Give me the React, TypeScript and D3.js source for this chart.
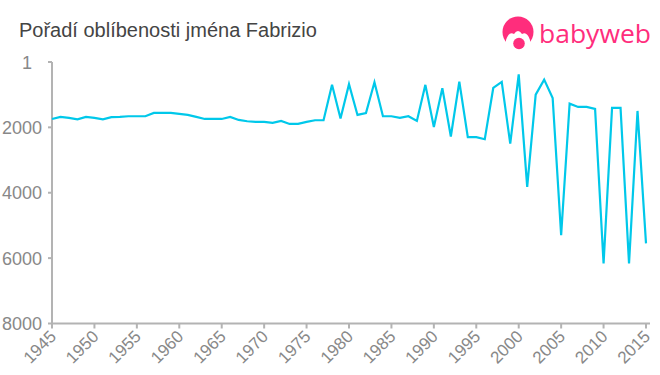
import React from "react";
import * as d3 from "d3";

const title = "Pořadí oblíbenosti jména Fabrizio";
const brand = "babyweb";
const startYear = 1945;
const ranks = [
  1743, 1680, 1712, 1753, 1680, 1712, 1753, 1690, 1680, 1660,
  1660, 1660, 1560, 1560, 1560, 1590, 1620, 1680, 1743, 1743,
  1743, 1680, 1773, 1814, 1834, 1834, 1865, 1804, 1895, 1895,
  1834, 1783, 1783, 700, 1730, 680, 1620, 1560, 620, 1660,
  1660, 1712, 1660, 1804, 700, 1990, 800, 2280, 600, 2300,
  2300, 2364, 795, 611, 2500, 380, 3820, 1000, 540, 1100,
  5300, 1274, 1376, 1376, 1437, 6165, 1406, 1406, 6165, 1498, 5550,
];
const years = ranks.map((_, i) => startYear + i);
const xTicks = d3.range(1945, 2016, 5);
const yTicks = [1, 2000, 4000, 6000, 8000];

const font = "'Liberation Sans', Arial, sans-serif";
const axisColor = "#b3b3b3";
const textColor = "#888888";

export default function App() {
  const x = d3.scaleLinear().domain([1945, 2015]).range([52, 646]);
  const y = d3.scaleLinear().domain([1, 8000]).range([62, 323.5]);
  const line = d3.line<number>().x((_, i) => x(years[i])).y((d) => y(d));
  return (
    <svg width={660} height={375} style={{ position: "absolute", left: 0, top: 0, background: "#fff" }}>
      <text x={19} y={37} fontFamily={font} fontSize={20} fill="#444444">{title}</text>

      <g>
        <circle cx={518} cy={32} r={15.5} fill="#ff2d7c" />
        <path d="M506 40 Q509 31 514 34 Q518 28 522 34 Q527 31 530 40 L530 50 L506 50 Z" fill="#fff" />
        <circle cx={519} cy={43.5} r={5.8} fill="#ff2d7c" />
        <text x={539} y={43} fontFamily="'Open Sans', sans-serif" fontSize={26} fill="#ff2d7c" textLength={112} lengthAdjust="spacingAndGlyphs">{brand}</text>
      </g>

      <path d={`M${x(1945)} ${y(1)}V${y(8000)}H650`} fill="none" stroke={axisColor} strokeWidth={2} />
      {yTicks.map((t) => (
        <g key={t}>
          <line x1={48} x2={52} y1={y(t)} y2={y(t)} stroke={axisColor} strokeWidth={2} />
          <text x={t === 1 ? 32 : 42} y={y(t) + 6.5} textAnchor="end" fontFamily={font} fontSize={18} fill={textColor}>{t}</text>
        </g>
      ))}
      {xTicks.map((t) => (
        <g key={t}>
          <line x1={x(t)} x2={x(t)} y1={y(8000)} y2={y(8000) + 5} stroke={axisColor} strokeWidth={2} />
          <text
            transform={`translate(${x(t) + 2},${y(8000) + 11}) rotate(-45)`}
            textAnchor="end"
            dominantBaseline="middle"
            fontFamily={font}
            fontSize={17}
            fill={textColor}
          >{t}</text>
        </g>
      ))}
      <path d={line(ranks) ?? ""} fill="none" stroke="#00c8ea" strokeWidth={2.2} />
    </svg>
  );
}
